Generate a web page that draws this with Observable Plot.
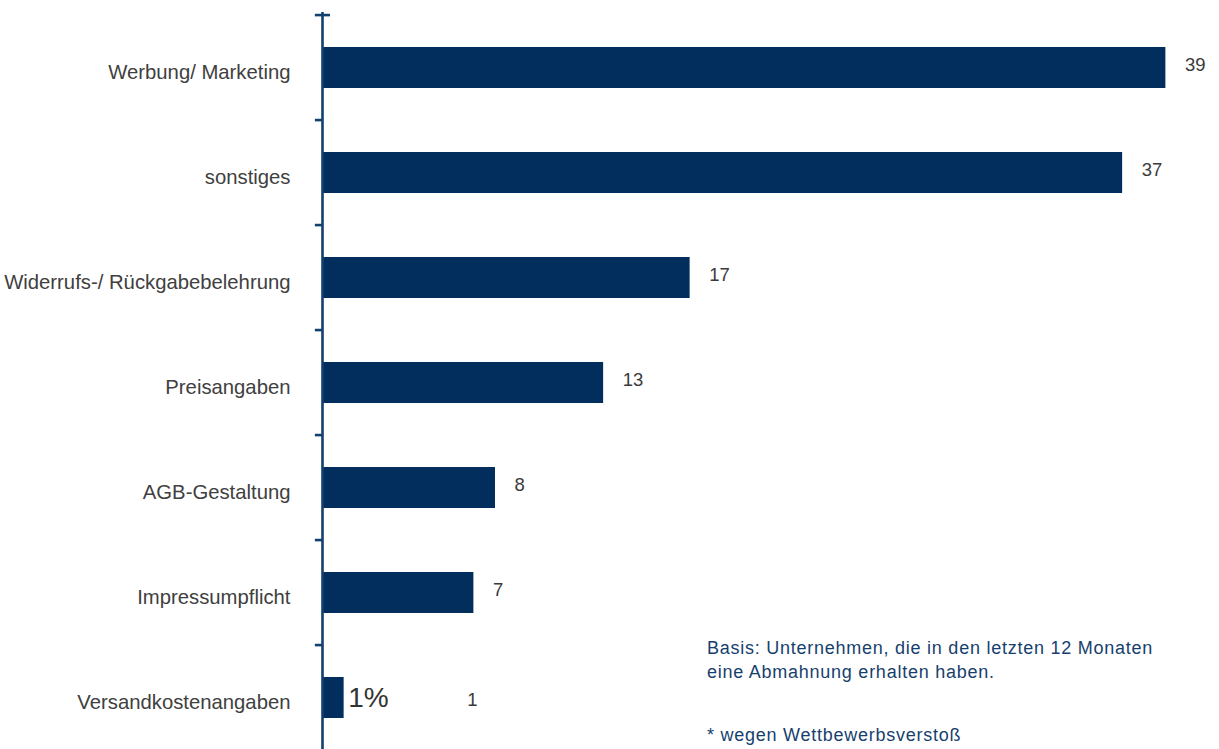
<!DOCTYPE html>
<html>
<head>
<meta charset="utf-8">
<script src="https://cdn.jsdelivr.net/npm/d3@7"></script>
<script src="https://cdn.jsdelivr.net/npm/@observablehq/plot@0.6"></script>
<style>
  html, body { margin: 0; padding: 0; background: #fff; }
  #wrap { position: relative; width: 1219px; height: 749px; overflow: hidden; }
  #note { position: absolute; left: 707px; top: 636px; font-family: "Liberation Sans", Arial, sans-serif;
          font-size: 18px; letter-spacing: 0.75px; line-height: 24px; color: #173f6e; }
</style>
</head>
<body>
<div id="wrap"><div id="chart"></div>
<div id="note">Basis: Unternehmen, die in den letzten 12 Monaten<br>eine Abmahnung erhalten haben.<br><br><span style="position:relative;top:15px">* wegen Wettbewerbsverstoß</span></div>
</div>
<script>
const categories = ["Werbung/ Marketing", "sonstiges", "Widerrufs-/ Rückgabebelehrung", "Preisangaben", "AGB-Gestaltung", "Impressumpflicht", "Versandkostenangaben"];
const values = [39, 37, 17, 13, 8, 7, 1];
const valueLabels = ["39", "37", "17", "13", "8", "7", "1"];
const strayLabel = ["1%"];

const data = categories.map((c, i) => ({cat: c, value: values[i], label: valueLabels[i]}));
const barColor = "#012e5d";
const axisColor = "#12406f";

const plotTop = 12, step = 105.86;
const chart = Plot.plot({
  width: 1219,
  height: 749,
  marginTop: plotTop,
  marginBottom: 0,
  marginLeft: 322,
  marginRight: 32,
  style: {fontFamily: "'Liberation Sans', Arial, sans-serif", background: "#fff"},
  x: {domain: [0, 40], axis: null},
  y: {domain: categories, range: [plotTop, plotTop + step * categories.length], paddingInner: 0.61, paddingOuter: 0.305, label: null},
  marks: [
    Plot.axisY({tickSize: 0, tickPadding: 32, fontSize: 20.3, fill: "#404040", dy: 4}),
    Plot.barX(data, {y: "cat", x: "value", fill: barColor}),
    Plot.ruleX([0], {stroke: axisColor, strokeWidth: 2.6}),
    Plot.ruleY(categories, {y: d => d, x1: -0.33, x2: (d, i) => i === 0 ? 0.37 : 0, dy: -step / 2, stroke: axisColor, strokeWidth: 2.6}),
    Plot.text(data.filter(d => d.value !== 1), {y: "cat", x: "value", text: "label", dx: 19, dy: -3, textAnchor: "start", fontSize: 18.5, fill: "#3a3a3a"}),
    Plot.text(data.filter(d => d.value === 1), {y: "cat", x: "value", text: "label", dx: 123, dy: 2, textAnchor: "start", fontSize: 18.5, fill: "#3a3a3a"}),
    Plot.text(data.filter(d => d.value === 1), {y: "cat", x: "value", text: () => strayLabel[0], dx: 4, dy: 0, textAnchor: "start", fontSize: 28, fill: "#333"})
  ]
});
document.getElementById("chart").appendChild(chart);
</script>
</body>
</html>
